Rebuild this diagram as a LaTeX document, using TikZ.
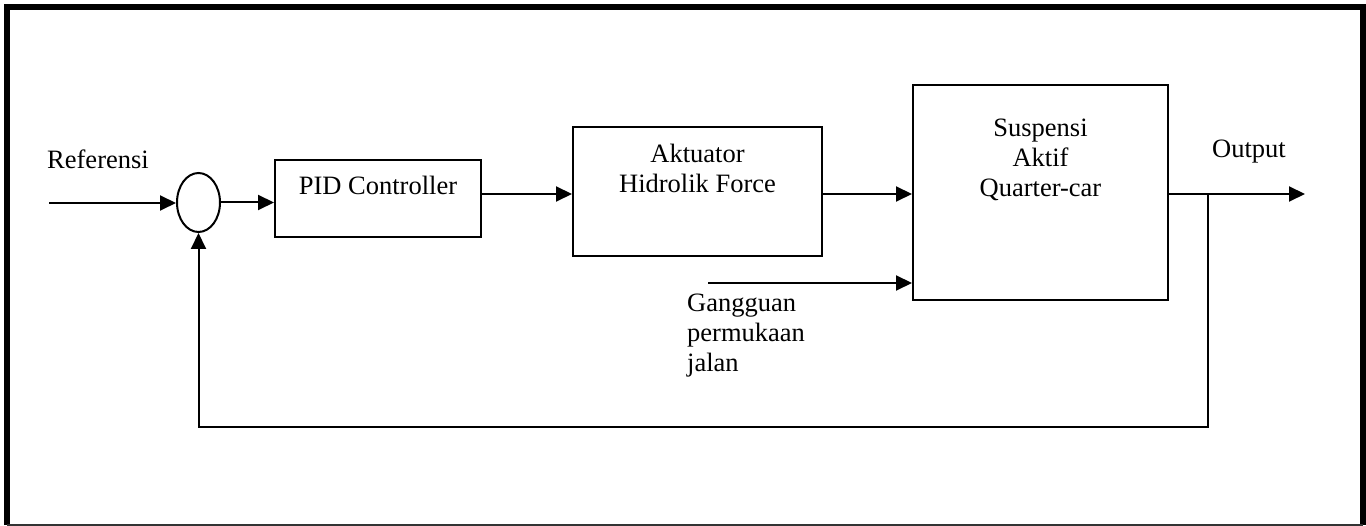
\documentclass[tikz,border=0pt]{standalone}
\usepackage{fontspec}
\setmainfont{Liberation Serif}
\usetikzlibrary{arrows.meta,shapes.geometric}
\begin{document}
\begin{tikzpicture}[x=1pt,y=-1pt,
  line/.style={line width=2pt},
  arr/.style={line width=2pt,-{Triangle[length=16pt,width=15pt]}},
  box/.style={draw,line width=2pt,rectangle,inner sep=0pt},
  txt/.style={font=\fontsize{26.5}{30}\selectfont,inner sep=0pt,align=center},
]
\useasboundingbox (0,0) rectangle (1366,526);
% frame
\draw[line width=6pt] (7,525) -- (7,7) -- (1363,7) -- (1363,525);
\draw[line width=2pt,black!80] (7,525) -- (1363,525);
% blocks
\node[draw,line width=2pt,ellipse,minimum width=43pt,minimum height=59pt,inner sep=0pt] (sum) at (198.5,202.5) {};
\node[box,minimum width=206pt,minimum height=77pt] (pid) at (378,198.5) {};
\node[box,minimum width=249pt,minimum height=129pt] (akt) at (697.5,191.5) {};
\node[box,minimum width=255pt,minimum height=215pt] (sus) at (1040.5,192.5) {};
% texts (base anchor = baseline of last line)
\node[txt,anchor=base] (pidt) at (378,195) {PID Controller};
\node[txt,anchor=base] (aktt) at (697.5,193) {Aktuator\\Hidrolik Force};
\node[txt,anchor=base] (sust) at (1040.5,197) {Suspensi\\Aktif\\Quarter-car};
\node[txt,anchor=base] (reft) at (98,169) {Referensi};
\node[txt,anchor=base] (outt) at (1249,158) {Output};
\node[txt,anchor=base west,align=left] (gangt) at (687,372) {Gangguan\\permukaan\\jalan};
% coordinates
\coordinate (ref) at (49,203);
\coordinate (out) at (1305,194);
\coordinate (br) at (1208,194);
\coordinate (fb1) at (1208,427);
\coordinate (fb2) at (198.5,427);
\coordinate (dist) at (708,283);
% connectors
\draw[arr] (ref) -- (ref -| sum.west);
\draw[arr] (sum.east) -- (sum.east -| pid.west);
\draw[arr] (pid.east |- 0,194) -- (akt.west |- 0,194);
\draw[arr] (akt.east |- 0,194) -- (sus.west |- 0,194);
\draw[arr] (sus.east |- out) -- (out);
\draw[arr] (br) -- (fb1) -- (fb2) -- (sum.south);
\draw[arr] (dist) -- (dist -| sus.west);
\end{tikzpicture}
\end{document}
